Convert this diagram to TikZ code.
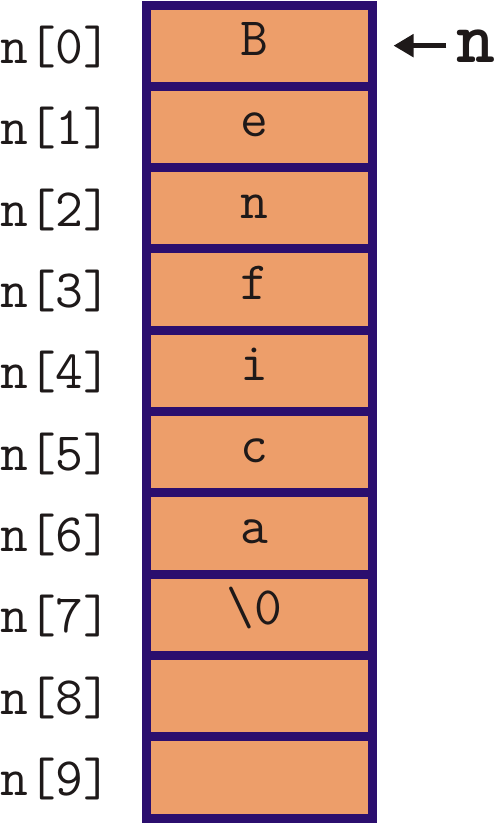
\documentclass[tikz,border=0pt]{standalone}
\usepackage{tikz}
\usetikzlibrary{positioning, arrows.meta}

\definecolor{cellfill}{RGB}{237,158,106}
\definecolor{cellline}{RGB}{43,14,110}
\definecolor{inktext}{RGB}{30,25,25}

\begin{document}
\begin{tikzpicture}[x=1pt, y=1pt,
            % --- Styles for the nodes ---
            cell/.style={
                draw=cellline, fill=cellfill, line width=9pt,
                minimum width=226pt, minimum height=81.3pt, inner sep=0pt,
                font=\fontsize{54}{54}\selectfont\ttfamily, text=inktext,
                text height=20pt, text depth=0pt
            },
            index/.style={anchor=base west, inner sep=0pt, text=inktext,
                font=\fontsize{54}{54}\selectfont\ttfamily},
            pointer/.style={anchor=base, inner sep=0pt, text=inktext,
                font=\fontsize{74}{74}\selectfont\ttfamily\bfseries},
            pointer_line/.style={-{Triangle[length=20pt, width=22pt]},
                line width=5pt, draw=inktext}
        ]

        \useasboundingbox (0,0) rectangle (496,-823);

        % --- The array cells and their indices ---
        \foreach \ch [count=\i from 0] in {B,e,n,f,i,c,a,\textbackslash 0,{},{}} {
            \node[cell] (cell\i) at (259.5, -45.65-81.3*\i) {\ch\hspace*{10pt}};
            \node[index] (idx\i) at (0, -63.65-81.3*\i) {n[\i]};
        }

        % --- Pointer to the first element ---
        \node[pointer] (ptr) at (476, -62) {n};
        \draw[pointer_line, shorten <=10pt, shorten >=16.5pt]
            (ptr.west |- cell0.east) -- (cell0.east);

\end{tikzpicture}
\end{document}
